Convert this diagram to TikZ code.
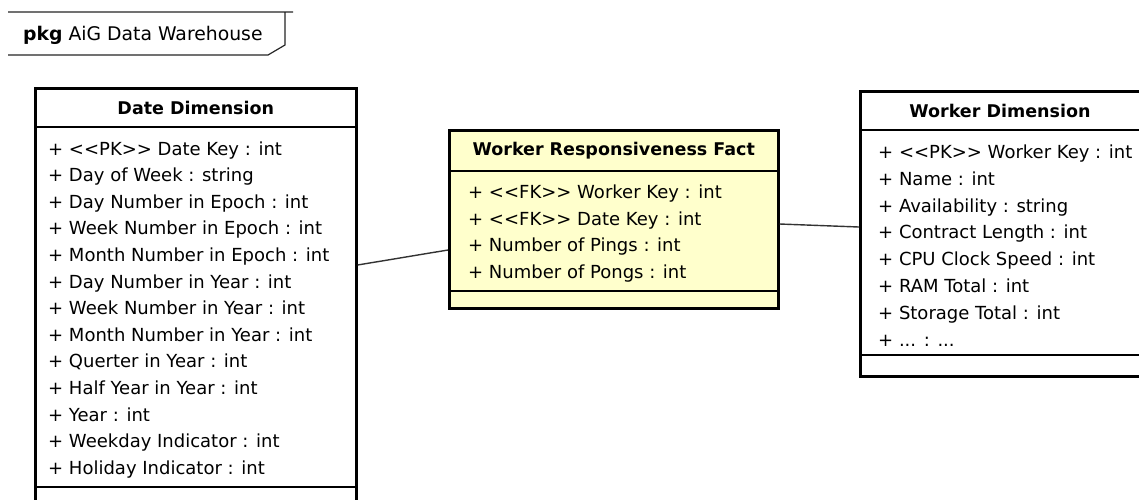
\documentclass[tikz,border=0pt]{standalone}
\usepackage{fontspec}
\newfontfamily\umlfont{DejaVu Sans}
\definecolor{factyellow}{RGB}{255,255,204}
\begin{document}
\begin{tikzpicture}[x=1pt,y=-1pt,
  umlbox/.style={draw=black, line width=2.6pt, fill=white, inner sep=0pt, anchor=north west},
  sepline/.style={line width=1.2pt},
  umltitle/.style={font=\umlfont\bfseries\fontsize{17.5}{21}\selectfont, inner sep=0pt},
  attr/.style={font=\umlfont\fontsize{18}{22}\selectfont, inner sep=0pt, anchor=base west},
  conn/.style={line width=1.4pt, draw=black!80},
  frame/.style={line width=1.2pt, draw=black!85}]
\useasboundingbox[fill=white] (0,0) rectangle (1139,499);

% package tab
\draw[frame] (8,12) -- (293,12) (285,12) -- (285,45) -- (268,55) -- (8,55);
\node[attr, font=\umlfont\fontsize{18.8}{22}\selectfont] (pkg) at (23,40.5) {\textbf{pkg} AiG Data Warehouse};

% class boxes
\node[umlbox, minimum width=321pt, minimum height=440pt] (date) at (34,87) {};
\node[umlbox, fill=factyellow, minimum width=329pt, minimum height=178pt] (fact) at (448,129) {};
\node[umlbox, minimum width=283pt, minimum height=285pt] (worker) at (859,90) {};

% associations
\draw[conn] (date.east |- 0,265) -- (fact.west |- 0,250);
\draw[conn] (fact.east |- 0,224) -- (worker.west |- 0,227);

% Date Dimension
\node[umltitle] (date-title) at (date.north |- 0,108) {Date Dimension};
\draw[sepline] (date.west |- 0,127) -- (date.east |- 0,127);
\foreach \t [count=\i] in {
  {+ <<PK>> Date Key : int},
  {+ Day of Week : string},
  {+ Day Number in Epoch : int},
  {+ Week Number in Epoch : int},
  {+ Month Number in Epoch : int},
  {+ Day Number in Year : int},
  {+ Week Number in Year : int},
  {+ Month Number in Year : int},
  {+ Querter in Year : int},
  {+ Half Year in Year : int},
  {+ Year : int},
  {+ Weekday Indicator : int},
  {+ Holiday Indicator : int}}
  \node[attr] (date-\i) at (48,{155+26.6*(\i-1)}) {\t};
\draw[sepline] (date.west |- 0,487) -- (date.east |- 0,487);

% Worker Responsiveness Fact
\node[umltitle] (fact-title) at (fact.north |- 0,151) {Worker Responsiveness Fact};
\draw[sepline] (fact.west |- 0,171) -- (fact.east |- 0,171);
\foreach \t [count=\i] in {
  {+ <<FK>> Worker Key : int},
  {+ <<FK>> Date Key : int},
  {+ Number of Pings : int},
  {+ Number of Pongs : int}}
  \node[attr] (fact-\i) at (468,{198.5+26.5*(\i-1)}) {\t};
\draw[sepline] (fact.west |- 0,291) -- (fact.east |- 0,291);

% Worker Dimension
\node[umltitle] (worker-title) at (1000,111) {Worker Dimension};
\draw[sepline] (worker.west |- 0,130) -- (worker.east |- 0,130);
\foreach \t [count=\i] in {
  {+ <<PK>> Worker Key : int},
  {+ Name : int},
  {+ Availability : string},
  {+ Contract Length : int},
  {+ CPU Clock Speed : int},
  {+ RAM Total : int},
  {+ Storage Total : int},
  {+ {...} : {...}}}
  \node[attr] (worker-\i) at (878,{158.5+26.8*(\i-1)}) {\t};
\draw[sepline] (worker.west |- 0,355) -- (worker.east |- 0,355);
\end{tikzpicture}
\end{document}
